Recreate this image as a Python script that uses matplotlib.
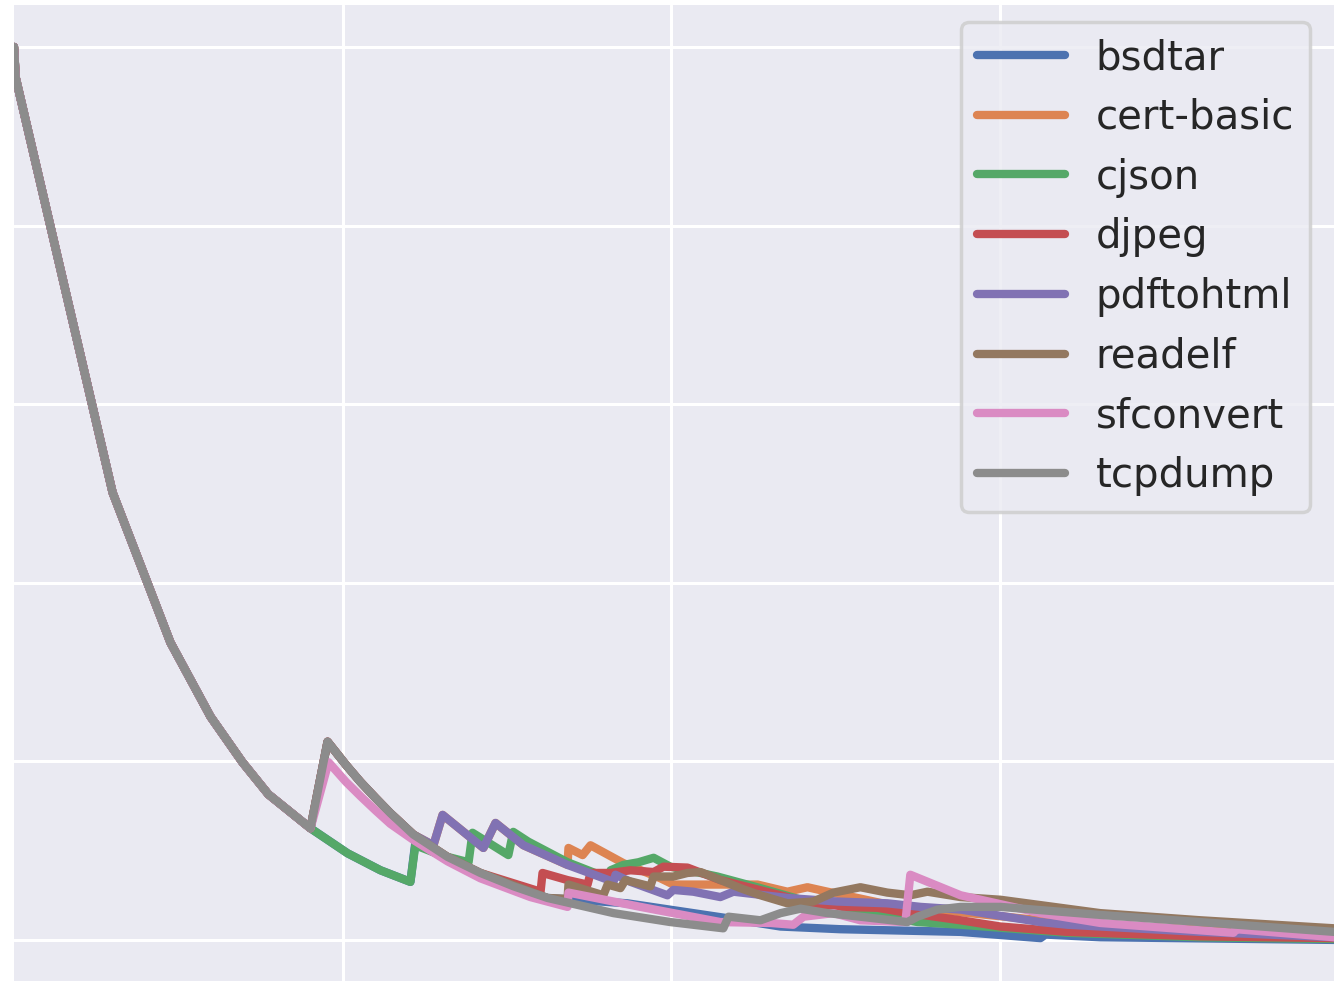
import matplotlib.pyplot as plt
import seaborn as sns

sns.set_style("darkgrid")
plt.rcParams["lines.solid_capstyle"] = "round"

# shared decay before any target finds something new
base_x = [0.0, 0.005, 0.300, 0.476, 0.598, 0.695, 0.774, 0.902]
base_y = [1.000, 0.966, 0.501, 0.333, 0.250, 0.199, 0.163, 0.125]

bsdtar_x = [1.015, 1.115, 1.206, 1.221, 1.419, 1.623, 1.866, 2.158, 2.332, 2.514, 2.880, 3.123,
            3.138, 3.305, 4.017]
bsdtar_y = [0.097, 0.078, 0.065, 0.109, 0.072, 0.047, 0.041, 0.025, 0.015, 0.012, 0.009, 0.002,
            0.006, 0.003, 0.000]

cert_x = [0.954, 1.010, 1.054, 1.100, 1.145, 1.215, 1.276, 1.304, 1.428, 1.465, 1.550, 1.684,
          1.687, 1.730, 1.754, 1.854, 1.967, 2.006, 2.089, 2.262, 2.353, 2.414, 2.475, 2.566,
          2.667, 2.880, 3.123, 3.305, 4.017]
cert_y = [0.222, 0.196, 0.177, 0.159, 0.142, 0.118, 0.106, 0.140, 0.103, 0.131, 0.106, 0.084,
          0.103, 0.095, 0.106, 0.086, 0.069, 0.062, 0.062, 0.062, 0.054, 0.059, 0.054, 0.047,
          0.039, 0.031, 0.022, 0.017, 0.004]

cjson_x = [1.015, 1.115, 1.206, 1.221, 1.298, 1.383, 1.395, 1.504, 1.519, 1.565, 1.684, 1.809,
           1.815, 1.854, 1.900, 1.946, 1.997, 2.140, 2.271, 2.414, 2.505, 2.749, 2.880, 3.205,
           3.610, 4.017]
cjson_y = [0.097, 0.078, 0.065, 0.106, 0.095, 0.087, 0.120, 0.095, 0.121, 0.110, 0.087, 0.069,
           0.078, 0.084, 0.087, 0.092, 0.082, 0.071, 0.058, 0.043, 0.036, 0.020, 0.017, 0.008,
           0.003, 0.001]

djpeg_x = [0.954, 1.010, 1.054, 1.100, 1.145, 1.215, 1.319, 1.419, 1.602, 1.608, 1.684, 1.745,
           1.754, 1.815, 1.876, 1.946, 1.976, 2.049, 2.149, 2.332, 2.475, 2.524, 2.627, 2.706,
           2.880, 3.001, 3.205, 3.610, 4.017]
djpeg_y = [0.222, 0.196, 0.177, 0.159, 0.142, 0.118, 0.093, 0.075, 0.054, 0.075, 0.067, 0.062,
           0.075, 0.075, 0.078, 0.076, 0.082, 0.081, 0.067, 0.050, 0.036, 0.037, 0.036, 0.031,
           0.022, 0.015, 0.009, 0.004, 0.002]

pdf_x = [0.954, 1.010, 1.054, 1.100, 1.145, 1.215, 1.276, 1.304, 1.428, 1.465, 1.550, 1.684,
         1.824, 1.830, 1.876, 1.988, 2.006, 2.067, 2.149, 2.189, 2.353, 2.505, 2.657, 2.758,
         2.880, 3.123, 3.205, 3.610, 4.017]
pdf_y = [0.222, 0.196, 0.177, 0.159, 0.142, 0.118, 0.106, 0.140, 0.103, 0.131, 0.106, 0.084,
         0.065, 0.073, 0.065, 0.050, 0.056, 0.054, 0.048, 0.054, 0.047, 0.043, 0.041, 0.037,
         0.034, 0.020, 0.017, 0.009, 0.003]

readelf_x = [0.954, 1.010, 1.054, 1.100, 1.145, 1.215, 1.319, 1.419, 1.623, 1.684,
             1.687, 1.793, 1.806, 1.845, 1.860, 1.936, 1.946, 2.006, 2.049, 2.089, 2.210, 2.271,
             2.353, 2.432, 2.493, 2.575, 2.657, 2.727, 2.779, 2.880, 3.001, 3.305, 3.610, 4.017]
readelf_y = [0.222, 0.196, 0.177, 0.159, 0.142, 0.118, 0.093, 0.075, 0.047, 0.046,
             0.062, 0.050, 0.062, 0.058, 0.067, 0.060, 0.071, 0.071, 0.075, 0.076, 0.058, 0.050,
             0.041, 0.043, 0.053, 0.059, 0.053, 0.050, 0.054, 0.048, 0.045, 0.030, 0.022, 0.013]

sfc_x = [0.957, 1.010, 1.054, 1.100, 1.145, 1.215, 1.319, 1.419, 1.571, 1.684, 1.687, 1.906,
         2.149, 2.302, 2.371, 2.402, 2.493, 2.575, 2.712, 2.727, 2.880, 3.123, 3.305, 3.710,
         3.719, 4.017]
sfc_y = [0.199, 0.177, 0.161, 0.145, 0.130, 0.112, 0.088, 0.069, 0.048, 0.037, 0.053, 0.037,
         0.020, 0.019, 0.017, 0.026, 0.030, 0.022, 0.020, 0.073, 0.050, 0.030, 0.019, 0.008,
         0.012, 0.003]

tcp_x = [0.954, 1.010, 1.054, 1.100, 1.145, 1.215, 1.319, 1.419, 1.520, 1.623, 1.824, 1.997,
         2.158, 2.174, 2.271, 2.332, 2.393, 2.475, 2.575, 2.718, 2.749, 2.810, 2.880, 3.001,
         3.305, 3.610, 4.017]
tcp_y = [0.222, 0.196, 0.177, 0.159, 0.142, 0.118, 0.093, 0.075, 0.060, 0.047, 0.030, 0.020,
         0.013, 0.026, 0.022, 0.030, 0.035, 0.030, 0.026, 0.020, 0.026, 0.034, 0.037, 0.037,
         0.028, 0.020, 0.009]

names = ["bsdtar", "cert-basic", "cjson", "djpeg", "pdftohtml", "readelf", "sfconvert", "tcpdump"]
tails = [(bsdtar_x, bsdtar_y), (cert_x, cert_y), (cjson_x, cjson_y), (djpeg_x, djpeg_y),
         (pdf_x, pdf_y), (readelf_x, readelf_y), (sfc_x, sfc_y), (tcp_x, tcp_y)]
colors = sns.color_palette("deep", 8)

fig = plt.figure(figsize=(13.34, 9.81), dpi=100)
ax = fig.add_axes([14 / 1334, 0, 1 - 14 / 1334, 1 - 5 / 981])

for name, (tx, ty), c in zip(names, tails, colors):
    ax.plot(base_x + tx, base_y + ty, color=c, lw=6, label=name)

ax.set_xlim(0, 4.016)
ax.set_ylim(-0.046, 1.047)
ax.set_xticks([1, 2, 3])
ax.set_yticks([0, 0.2, 0.4, 0.6, 0.8, 1.0])
ax.tick_params(labelleft=False, labelbottom=False, length=0)
ax.grid(color="white", lw=2.2)
for s in ax.spines.values():
    s.set_visible(False)

leg = ax.legend(loc="upper right", bbox_to_anchor=(1310 / 1334, 1 - 22 / 981),
                bbox_transform=fig.transFigure, borderaxespad=0, fontsize=29,
                handlelength=2.2, labelspacing=0.49, borderpad=0.4, handletextpad=0.75,
                frameon=True, fancybox=True, framealpha=0.8)
leg.get_frame().set_edgecolor("0.8")
leg.get_frame().set_linewidth(2.5)

fig.savefig("out.png", dpi=100)
